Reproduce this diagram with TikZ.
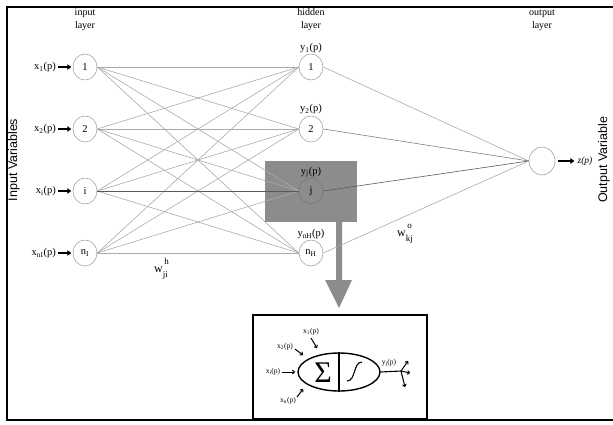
\documentclass[tikz,border=0pt]{standalone}
\usepackage{fontspec}
\setmainfont{Liberation Serif}
\newfontfamily\axisfont{Liberation Sans}
\usetikzlibrary{arrows.meta,shapes.geometric}

\definecolor{linkgray}{RGB}{170,170,170}
\definecolor{rimgray}{RGB}{150,150,150}
\definecolor{boxgray}{RGB}{140,140,140}

\tikzset{
  neuron/.style={ellipse, draw=rimgray, fill=white, line width=0.5pt,
    minimum width=24pt, minimum height=26pt, inner sep=0pt,
    font=\fontsize{10.5}{12}\selectfont},
  link/.style={draw=linkgray, line width=0.6pt},
  strong link/.style={draw=black!65, line width=0.6pt},
  varlabel/.style={inner sep=0pt, font=\fontsize{10.5}{12}\selectfont},
  layertitle/.style={align=center, inner sep=0pt, font=\fontsize{10}{13}\selectfont},
  feed/.style={-{Triangle[length=4pt,width=5.5pt]}, line width=1.4pt},
  axislabel/.style={rotate=90, inner sep=0pt, font=\axisfont\fontsize{12.5}{14}\selectfont},
  smalllabel/.style={inner sep=0pt, font=\fontsize{7.5}{8}\selectfont},
  thin arrow/.style={-{To[length=3pt,width=4.5pt]}, line width=1pt},
  weight/.style={inner sep=0pt, font=\fontsize{12}{13}\selectfont}
}

\begin{document}
\begin{tikzpicture}[x=1pt,y=-1pt]
\useasboundingbox (0,0) rectangle (613,424);

% outer frame (right side runs off the page)
\draw[line width=2.6pt] (640,7) -- (7,7) -- (7,420) -- (640,420);

% highlighted hidden neuron
\fill[boxgray] (265,161) rectangle (357,222);
% arrow down to the neuron close-up
\fill[boxgray] (336,222) -- (342,222) -- (342,280) -- (352,280)
  -- (339,308) -- (325,280) -- (336,280) -- cycle;

% layer titles
\node[layertitle] at (85,20) {input\\layer};
\node[layertitle] at (311,20) {hidden\\layer};
\node[layertitle] at (542,20) {output\\layer};

% input layer
\node[neuron] (i1) at (85,67) {1};
\node[neuron] (i2) at (85,129) {2};
\node[neuron] (ii) at (85,191) {i};
\node[neuron] (in) at (85,253) {n\textsubscript{I}};

% hidden layer
\node[neuron] (h1) at (311,67) {1};
\node[neuron] (h2) at (311,129) {2};
\node[neuron, fill=none, draw=black!55] (hj) at (311,191) {j};
\node[neuron] (hn) at (311,253) {n\textsubscript{H}};

% output layer
\node[neuron, minimum width=26pt, minimum height=28pt] (out) at (542,161) {};

% input -> hidden weights
\foreach \a in {i1,i2,ii,in}
  \foreach \b in {h1,h2,hj,hn}
    \draw[link] (\a.east) -- (\b.west);
\draw[strong link] (ii.east) -- (hj.west);

% hidden -> output weights
\draw[link] (h1.east) -- (out.west);
\draw[draw=black!50, line width=0.6pt] (h2.east) -- (out.west);
\draw[draw=black!65, line width=0.6pt] (hj.east) -- (out.west);
\draw[link] (hn.east) -- (out.west);

% input variable labels
\node[varlabel, anchor=east] (l1) at (56,67) {x\textsubscript{1}(p)};
\node[varlabel, anchor=east] (l2) at (56,129) {x\textsubscript{2}(p)};
\node[varlabel, anchor=east] (li) at (56,191) {x\textsubscript{i}(p)};
\node[varlabel, anchor=east] (ln) at (56,253) {x\textsubscript{nI}(p)};
\foreach \l/\n in {l1/i1,l2/i2,li/ii,ln/in}
  \draw[feed] ([xshift=2pt]\l.east) -- ([xshift=-1.5pt]\n.west);

% hidden output labels
\node[varlabel] at (311,48) {y\textsubscript{1}(p)};
\node[varlabel] at (311,109) {y\textsubscript{2}(p)};
\node[varlabel] at (311,172) {y\textsubscript{j}(p)};
\node[varlabel] at (311,234) {y\textsubscript{nH}(p)};

% network output
\node[varlabel, font=\itshape\fontsize{9.5}{11}\selectfont] (z) at (585,161) {z(p)};
\draw[feed] ([xshift=3pt]out.east) -- ([xshift=-3pt]z.west);

% weight labels
\node[weight] at (161,269)
  {w\rlap{\raisebox{7.5pt}{\fontsize{9}{9}\selectfont\,h}}\raisebox{-5pt}{\fontsize{9}{9}\selectfont ji}};
\node[weight] at (405,234)
  {w\rlap{\raisebox{7.5pt}{\fontsize{9}{9}\selectfont\,o}}\raisebox{-5pt}{\fontsize{9}{9}\selectfont kj}};

% side captions
\node[axislabel] at (14,160) {Input Variables};
\node[axislabel] at (604,160) {Output Variable};

% close-up of a single neuron
\draw[line width=1.4pt] (253,315) rectangle (427,419);
\node[ellipse, draw, line width=1.4pt, minimum width=82pt, minimum height=38pt,
  inner sep=0pt] (cell) at (339,372) {};
\draw[line width=1.1pt] (cell.north) -- (cell.south);
\node[inner sep=0pt, font=\fontsize{30}{30}\selectfont] (sum) at (323,373) {Σ};
\draw[line width=1.1pt] (347,381) .. controls (356,381) and (353,362) .. (362,362);

\coordinate (fan) at (401,371);
\draw[line width=1.1pt] (cell.east) -- (fan);
\draw[thin arrow] (fan) -- (408,361);
\draw[thin arrow] (fan) -- (410,373);
\draw[thin arrow] (fan) -- (405,387);
\node[smalllabel] at (389,363) {y\textsubscript{j}(p)};

\node[smalllabel] (c1) at (311,332) {x\textsubscript{1}(p)};
\node[smalllabel] (c2) at (285,347) {x\textsubscript{2}(p)};
\node[smalllabel] (ci) at (273,372) {x\textsubscript{i}(p)};
\node[smalllabel] (cn) at (288,401) {x\textsubscript{n}(p)};
\draw[thin arrow] (311,338) -- (317,348);
\draw[thin arrow] (295,349) -- (303,355);
\draw[thin arrow] (ci.east) ++(2,0) -- (295,372);
\draw[thin arrow] (297,397) -- (303,389);
\end{tikzpicture}
\end{document}
